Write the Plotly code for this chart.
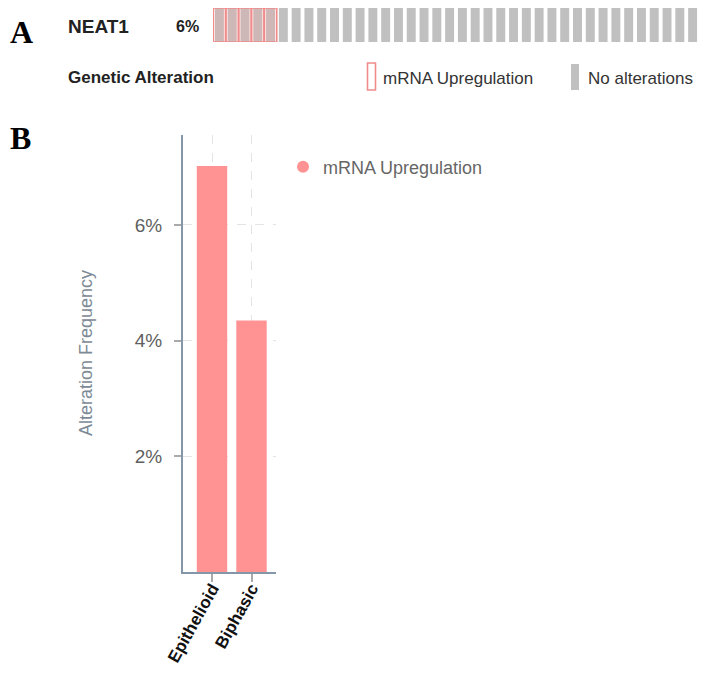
import plotly.graph_objects as go

# page is 707x673; the browser body has an 8px margin, so the figure is sized to fit inside it
OFF = 8
W, H = 707 - 2 * OFF, 673 - 2 * OFF

# ---- Data ----
# Panel A: oncoprint samples (visible part)
n_samples = 38
sample_ids = list(range(n_samples))
upregulated_ids = [0, 1, 2, 3, 4]
gene_name = "NEAT1"
gene_pct = "6%"

# Panel B: alteration frequency by subtype
subtypes = ["Epithelioid", "Biphasic"]
freq_values = [7.02, 4.35]
y_ticks = [2, 4, 6]
y_tick_text = ["2%", "4%", "6%"]

BAR_RED = "#FF9393"
AXIS_COL = "#8497a8"
GREY = "#c0c0c0"

def px_x(p):
    return min(1.0, max(0.0, (p - OFF) / W))

def px_y(p):
    return min(1.0, max(0.0, 1 - (p - OFF) / H))

fig = go.Figure()

# Panel A oncoprint
fig.add_trace(go.Bar(
    x=sample_ids, y=[1] * n_samples, width=0.70,
    marker=dict(color=GREY, line=dict(width=0)),
    xaxis="x2", yaxis="y2", showlegend=False, hoverinfo="skip",
))
fig.add_trace(go.Bar(
    x=upregulated_ids, y=[1] * len(upregulated_ids), width=0.97,
    marker=dict(color="rgba(255,150,150,0.22)", line=dict(color="#f08c8c", width=1.6)),
    xaxis="x2", yaxis="y2", showlegend=False, hoverinfo="skip",
))

# Panel B bars
fig.add_trace(go.Bar(
    x=subtypes, y=freq_values, width=0.77,
    marker=dict(color=BAR_RED, line=dict(width=0)),
    showlegend=False, xaxis="x", yaxis="y",
))
# legend entry with circle marker
fig.add_trace(go.Scatter(
    x=[None], y=[None], mode="markers", name="mRNA Upregulation",
    marker=dict(color=BAR_RED, size=13, symbol="circle"),
    xaxis="x", yaxis="y", showlegend=True,
))

fig.update_layout(
    width=W, height=H,
    margin=dict(l=0, r=0, t=0, b=0, pad=0, autoexpand=False),
    paper_bgcolor="white", plot_bgcolor="white",
    barmode="overlay",
    font=dict(family="Liberation Sans, Arial, sans-serif", color="#666666"),
    xaxis=dict(
        domain=[px_x(183), px_x(276)],
        range=[-0.734, 1.62],
        type="category",
        automargin=False,
        showline=True, linecolor=AXIS_COL, linewidth=2,
        showgrid=True, gridcolor="#e4e4e4", griddash="dash", gridwidth=1,
        ticks="outside", ticklen=8, tickcolor="#aaaaaa", tickwidth=1.5,
        tickangle=-61,
        ticklabelstandoff=-10,
        tickfont=dict(family="Liberation Sans, Arial, sans-serif", size=17, color="#111111", weight="bold"),
        zeroline=False, fixedrange=True,
    ),
    yaxis=dict(
        domain=[px_y(572), px_y(135)],
        range=[0, 7.556],
        automargin=False,
        showline=True, linecolor=AXIS_COL, linewidth=2,
        showgrid=True, gridcolor="#e4e4e4", griddash="dash", gridwidth=1,
        tickvals=y_ticks, ticktext=y_tick_text,
        ticks="outside", ticklen=7, tickcolor="#aaaaaa", tickwidth=1.5,
        ticklabelstandoff=8,
        tickfont=dict(size=19, color="#5f5f5f"),
        zeroline=False, fixedrange=True,
    ),
    xaxis2=dict(
        domain=[px_x(213), px_x(699)],
        range=[-0.5, n_samples - 0.5],
        visible=False, fixedrange=True, automargin=False,
    ),
    yaxis2=dict(
        domain=[px_y(42), px_y(8)],
        range=[0, 1],
        visible=False, fixedrange=True, automargin=False,
    ),
    legend=dict(
        x=px_x(283), y=px_y(167), xanchor="left", yanchor="middle",
        bgcolor="rgba(0,0,0,0)", borderwidth=0,
        font=dict(size=18, color="#666666"),
        itemsizing="constant",
    ),
)

# Panel A legend swatches
fig.add_shape(type="rect", xref="paper", yref="paper",
              x0=px_x(367.5), x1=px_x(375.5), y0=px_y(90), y1=px_y(63),
              line=dict(color="#f08c8c", width=1.6), fillcolor="rgba(255,255,255,0)")
fig.add_shape(type="rect", xref="paper", yref="paper",
              x0=px_x(571), x1=px_x(579), y0=px_y(90), y1=px_y(64),
              line=dict(width=0), fillcolor=GREY)

def text(x, y, s, size, color="#222222", bold=False, family="Liberation Sans, Arial, sans-serif", angle=0, xanchor="left"):
    fig.add_annotation(
        x=px_x(x), y=px_y(y), xref="paper", yref="paper",
        text=f"<b>{s}</b>" if bold else s, showarrow=False,
        xanchor=xanchor, yanchor="middle", textangle=angle,
        font=dict(size=size, color=color, family=family),
    )

text(8, 32, "A", 32, color="#000000", bold=True, family="Liberation Serif, Times New Roman, serif")
text(8, 138, "B", 32, color="#000000", bold=True, family="Liberation Serif, Times New Roman, serif")
text(66, 26, gene_name, 19, bold=True)
text(174, 26, gene_pct, 16, bold=True)
text(66, 77, "Genetic Alteration", 17, bold=True)
text(381, 78, "mRNA Upregulation", 17, color="#333333")
text(586, 78, "No alterations", 17, color="#333333")
fig.add_annotation(
    x=px_x(86), y=px_y(353), xref="paper", yref="paper",
    text="Alteration Frequency", showarrow=False, textangle=-90,
    xanchor="center", yanchor="middle",
    font=dict(size=18, color="#7d8a96"),
)

fig.write_html("out.html")
